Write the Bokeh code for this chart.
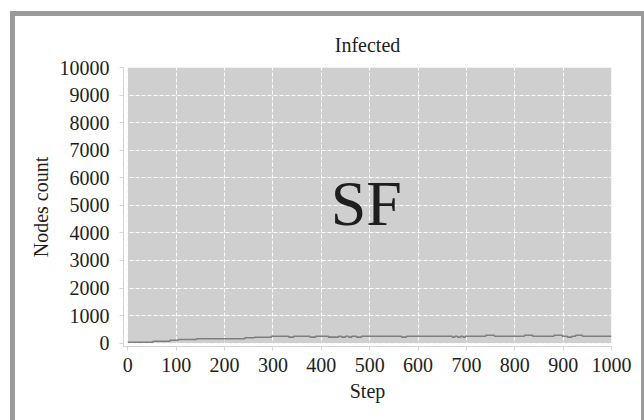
from bokeh.plotting import figure
from bokeh.models import SingleIntervalTicker, Label, Range1d
from bokeh.embed import file_html
from bokeh.resources import INLINE

# ---- data ----
steps = [0, 52, 87, 104, 142, 242, 262, 297, 333, 343, 377, 388, 415, 436,
         442, 450, 457, 463, 473, 483, 566, 576, 671, 676, 682, 688, 693, 698,
         740, 758, 820, 837, 881, 898, 909, 918, 926, 940, 1000]
infected = [35, 72, 109, 134, 160, 196, 217, 254, 220, 254, 220, 254, 220, 254,
            220, 254, 220, 254, 220, 254, 220, 254, 220, 254, 220, 254, 220, 254,
            290, 254, 290, 254, 290, 254, 220, 254, 290, 254, 254]

x_min, x_max = 0, 1000
y_min, y_max = 0, 10000
x_tick_step = 100
y_tick_step = 1000

title_text = "Infected"
x_label = "Step"
y_label = "Nodes count"
panel_label = "SF"

FONT = "Liberation Serif"
TXT = "#1e1e1e"

p = figure(width=626, height=404, output_backend="svg", toolbar_location=None,
           x_range=Range1d(-8.9, x_max), y_range=Range1d(-120, y_max),
           min_border_left=108, min_border_right=30, min_border_top=51,
           min_border_bottom=74, background_fill_color="white",
           border_fill_color="white", title=title_text)
p.margin = (16, 0, 0, 15)
p.styles = {"outline": "5px solid #9a9a9a"}
p.outline_line_color = None

p.title.align = "center"
p.title.text_font = FONT
p.title.text_font_size = "20px"
p.title.text_font_style = "normal"
p.title.text_color = TXT
p.title.standoff = 24

# plot-area background
p.quad(left=[x_min], right=[x_max], bottom=[y_min], top=[y_max],
       fill_color="#cfcfcf", line_color=None, level="image")

# grids
for g in (p.xgrid, p.ygrid):
    g.grid_line_color = "white"
    g.grid_line_dash = "4 2"
    g.grid_line_width = 1

p.xaxis.ticker = SingleIntervalTicker(interval=x_tick_step)
p.yaxis.ticker = SingleIntervalTicker(interval=y_tick_step)
p.xgrid.ticker = p.xaxis.ticker
p.ygrid.ticker = p.yaxis.ticker

for ax in (p.xaxis, p.yaxis):
    ax.axis_line_color = "#d4d4d4"
    ax.major_tick_line_color = "#d4d4d4"
    ax.major_tick_in = 0
    ax.major_tick_out = 4
    ax.minor_tick_line_color = None
    ax.major_label_text_font = FONT
    ax.major_label_text_font_size = "20px"
    ax.major_label_text_color = TXT
    ax.axis_label_text_font = FONT
    ax.axis_label_text_font_size = "20px"
    ax.axis_label_text_font_style = "normal"
    ax.axis_label_text_color = TXT

p.xaxis.axis_label = x_label
p.yaxis.axis_label = y_label
p.xaxis.major_label_standoff = 7
p.yaxis.major_label_standoff = 10
p.xaxis.axis_label_standoff = 5
p.yaxis.axis_label_standoff = 5

p.step(steps, infected, mode="after", line_color="#7f7f7f", line_width=1.6)

p.add_layout(Label(x=493, y=5050, text=panel_label, text_align="center",
                   text_baseline="alphabetic", text_font=FONT,
                   text_font_size="64px", text_color=TXT))

open("out.html", "w").write(file_html(p, INLINE))
